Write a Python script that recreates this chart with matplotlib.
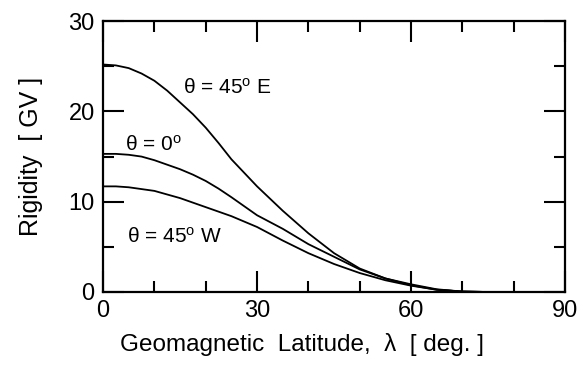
import matplotlib.pyplot as plt
from matplotlib.ticker import MultipleLocator

# values (rigidity in GV vs latitude in deg)
lat = [0, 2.5, 5, 7.5, 10, 12.5, 15, 17.5, 20, 22.5, 25, 27.5, 30, 35, 40, 45, 50, 55, 60, 65, 70, 75, 80, 90]
rig_east = [25.2, 25.1, 24.8, 24.2, 23.4, 22.3, 21.0, 19.7, 18.2, 16.5, 14.7, 13.2, 11.7, 9.0, 6.5, 4.3, 2.6, 1.5, 0.75, 0.25, 0.05, 0, 0, 0]
rig_zero = [15.3, 15.3, 15.2, 15.0, 14.6, 14.1, 13.6, 13.0, 12.3, 11.45, 10.5, 9.5, 8.5, 7.0, 5.3, 3.9, 2.5, 1.5, 0.85, 0.3, 0.05, 0, 0, 0]
rig_west = [11.7, 11.7, 11.6, 11.4, 11.2, 10.8, 10.4, 9.9, 9.4, 8.9, 8.4, 7.8, 7.2, 5.7, 4.3, 3.1, 2.1, 1.3, 0.7, 0.25, 0.05, 0, 0, 0]

labels = ["θ = 45$^{\\rm o}$ E", "θ = 0$^{\\rm o}$", "θ = 45$^{\\rm o}$ W"]

plt.rcParams["font.family"] = ["Liberation Sans", "DejaVu Sans"]
plt.rcParams["mathtext.fontset"] = "custom"
plt.rcParams["mathtext.rm"] = "Liberation Sans"
plt.rcParams["mathtext.it"] = "Liberation Sans:italic"

fig = plt.figure(figsize=(5.79, 3.65), dpi=100)
ax = fig.add_axes([0.178, 0.2, 0.798, 0.742])

for r in (rig_east, rig_zero, rig_west):
    ax.plot(lat, r, color="black", lw=1.3)

ax.text(15.6, 22.6, labels[0], fontsize=15, va="center")
ax.text(4.3, 16.3, labels[1], fontsize=15, va="center")
ax.text(4.7, 6.1, labels[2], fontsize=15, va="center")

ax.set_xlim(0, 90)
ax.set_ylim(0, 30)
ax.xaxis.set_major_locator(MultipleLocator(30))
ax.xaxis.set_minor_locator(MultipleLocator(10))
ax.yaxis.set_major_locator(MultipleLocator(10))
ax.yaxis.set_minor_locator(MultipleLocator(5))
ax.tick_params(which="both", direction="in", top=True, right=True, width=1.5, labelsize=17)
ax.tick_params(which="major", length=15)
ax.tick_params(which="minor", length=8)
ax.tick_params(axis="x", pad=6)
ax.tick_params(axis="y", pad=6)
for s in ax.spines.values():
    s.set_linewidth(1.6)

ax.set_xlabel("Geomagnetic  Latitude,  λ  [ deg. ]", fontsize=17.5)
ax.set_ylabel("Rigidity  [ GV ]", fontsize=18)
ax.xaxis.set_label_coords(0.43, -0.151)
ax.yaxis.set_label_coords(-0.13, 0.5)

fig.savefig("out.png", dpi=100)
